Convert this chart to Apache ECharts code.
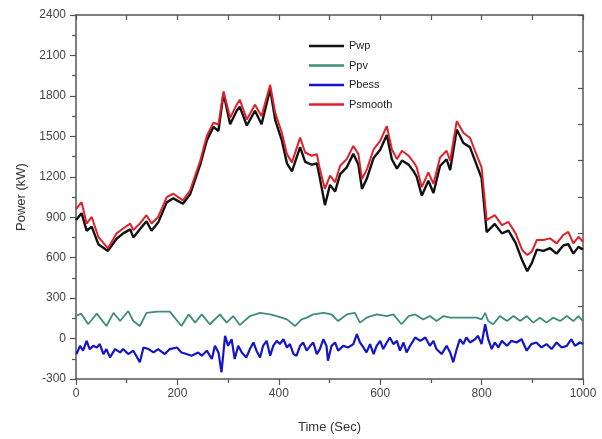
<!DOCTYPE html>
<html>
<head>
<meta charset="utf-8">
<script src="https://cdn.jsdelivr.net/npm/echarts@6/dist/echarts.min.js"></script>
<style>
  html, body { margin: 0; padding: 0; background: #fff; }
  #chart { width: 602px; height: 439px; }
</style>
</head>
<body>
<div id="chart"></div>
<script>
// Wind power, PV power, battery power and the smoothed output over 1000 s.
const seriesNames = ['Pwp', 'Ppv', 'Pbess', 'Psmooth'];

// Time stamps (s) shared by the wind and smoothed curves
const mainTime = [0, 11, 21, 31, 44, 63, 80, 93, 107, 113, 126, 139, 149, 162, 179, 192, 211, 225, 245, 258,
  271, 281, 291, 304, 317, 323, 337, 353, 366, 383, 393, 406, 416, 426, 442, 452, 465, 475, 481, 491,
  501, 511, 521, 534, 547, 557, 564, 574, 587, 600, 613, 623, 633, 643, 656, 666, 672, 682, 695, 705,
  718, 731, 738, 751, 764, 777, 787, 800, 810, 826, 840, 853, 867, 880, 890, 899, 909, 922, 935, 948,
  961, 971, 981, 991, 1000];

// Smoothed output power (kW)
const psmooth = [960, 1012, 853, 902, 755, 669, 780, 816, 853, 804, 853, 915, 853, 902, 1049, 1074, 1025, 1098, 1319, 1503,
  1601, 1588, 1834, 1637, 1735, 1772, 1625, 1735, 1650, 1882, 1674, 1527, 1368, 1307, 1490, 1380, 1356, 1368, 1257, 1110,
  1209, 1160, 1282, 1331, 1429, 1368, 1184, 1257, 1404, 1466, 1576, 1404, 1331, 1393, 1356, 1307, 1270, 1123, 1233, 1147,
  1343, 1393, 1319, 1613, 1527, 1490, 1393, 1270, 878, 915, 841, 865, 780, 657, 620, 645, 731, 731, 743, 706,
  768, 792, 706, 755, 718];

// Wind power (kW)
const pwp = [880, 930, 800, 830, 700, 650, 740, 780, 810, 750, 810, 870, 800, 860, 1010, 1040, 1000, 1070, 1290, 1470,
  1570, 1540, 1820, 1590, 1690, 1720, 1580, 1690, 1590, 1850, 1620, 1470, 1300, 1240, 1420, 1310, 1290, 1300, 1190, 990,
  1140, 1090, 1220, 1270, 1370, 1290, 1110, 1190, 1340, 1400, 1510, 1330, 1260, 1320, 1290, 1240, 1200, 1060, 1170, 1080,
  1280, 1330, 1250, 1550, 1450, 1420, 1320, 1190, 790, 850, 780, 800, 710, 580, 500, 560, 660, 650, 670, 630,
  690, 700, 630, 680, 660];

// PV power
const pvTime = [0, 10, 24, 41, 60, 74, 87, 103, 113, 126, 139, 160, 185, 208, 222, 235, 248, 264, 284, 297,
  310, 323, 343, 363, 383, 396, 416, 432, 445, 455, 468, 488, 504, 517, 534, 550, 560, 573, 593, 613,
  626, 642, 656, 669, 685, 698, 711, 725, 738, 757, 777, 790, 800, 807, 813, 823, 836, 850, 863, 876,
  889, 902, 915, 928, 941, 955, 968, 981, 991, 1000];
const ppv = [167, 185, 106, 185, 93, 191, 130, 204, 130, 93, 191, 200, 200, 93, 179, 118, 179, 106, 179, 118,
  167, 100, 167, 191, 179, 167, 142, 93, 142, 155, 179, 191, 179, 130, 179, 191, 118, 155, 179, 167,
  179, 106, 167, 179, 142, 167, 130, 167, 155, 155, 155, 155, 142, 191, 130, 106, 167, 130, 167, 130,
  167, 118, 155, 118, 155, 130, 167, 130, 167, 130];

// Battery power
const bessTime = [1, 8, 14, 21, 27, 34, 41, 47, 54, 60, 67, 77, 87, 93, 103, 113, 126, 133, 143, 153,
  162, 175, 185, 199, 208, 218, 228, 241, 248, 258, 268, 274, 281, 287, 294, 300, 307, 313, 320, 327,
  330, 336, 343, 350, 356, 363, 369, 376, 383, 389, 396, 402, 409, 416, 422, 429, 435, 442, 448, 455,
  462, 468, 475, 481, 488, 494, 497, 504, 511, 517, 527, 537, 547, 554, 560, 567, 573, 580, 587, 593,
  600, 606, 613, 619, 626, 633, 639, 646, 652, 659, 669, 679, 689, 698, 705, 711, 721, 731, 738, 744,
  751, 757, 764, 770, 777, 787, 793, 800, 807, 813, 820, 826, 833, 840, 850, 859, 869, 879, 889, 898,
  908, 918, 928, 938, 948, 958, 968, 977, 984, 994, 1000];
const pbess = [-115, -54, -90, -17, -78, -54, -66, -41, -115, -78, -140, -78, -103, -78, -115, -90, -176, -66, -78, -103,
  -78, -115, -78, -66, -103, -115, -127, -103, -127, -90, -152, -54, -103, -250, 20, -54, -5, -152, -54, -103,
  -115, -140, -78, -29, -90, -140, -54, -17, -127, -54, -17, -41, -5, -66, -41, -115, -127, -54, -29, -90,
  -54, -29, -115, -78, -5, -54, -164, -54, -29, -90, -54, -66, -41, 32, -29, -66, -103, -41, -115, -54,
  -17, -78, -29, 8, -41, -17, -90, -29, -103, -54, 8, -17, 8, -54, -17, -78, -115, -54, -103, -176,
  -78, -5, -41, 8, -29, -5, 20, -41, 106, -5, -78, -29, -66, -17, -54, -17, -29, -5, -90, -41,
  -29, -66, -41, -78, -29, -66, -54, -5, -54, -29, -41];

const zip = (xs, ys) => xs.map((x, i) => [x, ys[i]]);
const plain = (v) => String(v);

const axisColor = '#555';
const font = 'Liberation Sans, Arial, sans-serif';

const chart = echarts.init(document.getElementById('chart'), null, { renderer: 'canvas' });

chart.setOption({
  backgroundColor: '#fff',
  animation: false,
  grid: { left: 76, right: 19, top: 15, bottom: 56 },
  legend: {
    data: seriesNames,
    orient: 'vertical',
    left: 304,
    top: 34,
    icon: 'rect',
    itemWidth: 35,
    itemHeight: 2.5,
    itemGap: 5.5,
    textStyle: { fontFamily: font, fontSize: 11, color: '#222', lineHeight: 14 }
  },
  xAxis: [
    {
      type: 'value', min: 0, max: 1000, interval: 200, position: 'bottom',
      name: 'Time (Sec)', nameLocation: 'middle', nameGap: 42,
      nameTextStyle: { fontFamily: font, fontSize: 13, color: '#333' },
      axisLine: { show: true, onZero: false, lineStyle: { color: axisColor, width: 1.5 } },
      axisTick: { show: true, inside: false, length: 6, lineStyle: { color: axisColor, width: 1.2 } },
      minorTick: { show: true, splitNumber: 2, length: 4, lineStyle: { color: axisColor, width: 1.2 } },
      splitLine: { show: false },
      axisLabel: { fontFamily: font, fontSize: 12, color: '#444', margin: 9, formatter: plain }
    },
    {
      type: 'value', min: 0, max: 1000, interval: 100, position: 'top',
      axisLine: { show: true, onZero: false, lineStyle: { color: axisColor, width: 1.5 } },
      axisTick: { show: true, inside: true, length: 5, lineStyle: { color: axisColor, width: 1.2 } },
      splitLine: { show: false },
      axisLabel: { show: false }
    }
  ],
  yAxis: [
    {
      type: 'value', min: -300, max: 2400, interval: 300, position: 'left',
      name: 'Power (kW)', nameLocation: 'middle', nameGap: 47,
      nameTextStyle: { fontFamily: font, fontSize: 13, color: '#333' },
      axisLine: { show: true, onZero: false, lineStyle: { color: axisColor, width: 1.5 } },
      axisTick: { show: true, inside: false, length: 6, lineStyle: { color: axisColor, width: 1.2 } },
      minorTick: { show: true, splitNumber: 2, length: 4, lineStyle: { color: axisColor, width: 1.2 } },
      splitLine: { show: false },
      axisLabel: { fontFamily: font, fontSize: 12, color: '#444', margin: 10, formatter: plain }
    },
    {
      type: 'value', min: 0, max: 10, interval: 1, position: 'right',
      axisLine: { show: true, onZero: false, lineStyle: { color: axisColor, width: 1.5 } },
      axisTick: { show: true, inside: true, length: 5, lineStyle: { color: axisColor, width: 1.2 } },
      splitLine: { show: false },
      axisLabel: { show: false }
    }
  ],
  series: [
    {
      name: 'Pwp', type: 'line', data: zip(mainTime, pwp), showSymbol: false, symbol: 'none',
      color: '#111', lineStyle: { color: '#111', width: 2.4 }
    },
    {
      name: 'Ppv', type: 'line', data: zip(pvTime, ppv), showSymbol: false, symbol: 'none',
      color: '#3e8c7c', lineStyle: { color: '#3e8c7c', width: 1.8 }
    },
    {
      name: 'Pbess', type: 'line', data: zip(bessTime, pbess), showSymbol: false, symbol: 'none',
      color: '#1414c8', lineStyle: { color: '#1414c8', width: 2.2 }
    },
    {
      name: 'Psmooth', type: 'line', data: zip(mainTime, psmooth), showSymbol: false, symbol: 'none',
      color: '#e0202a', lineStyle: { color: '#e0202a', width: 2 }
    }
  ]
});
</script>
</body>
</html>
